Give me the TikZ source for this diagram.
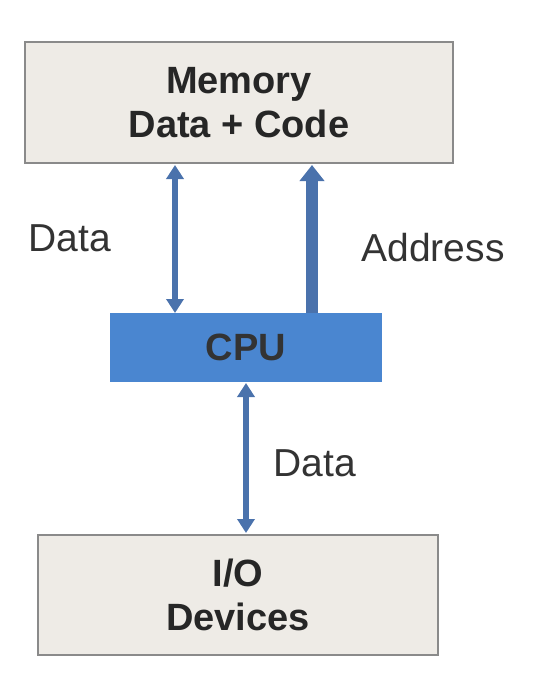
\documentclass[tikz,border=0pt]{standalone}
\usepackage{fontspec}
\setmainfont{Liberation Sans}
\usetikzlibrary{arrows.meta}
\definecolor{boxfill}{HTML}{EEEBE6}
\definecolor{boxline}{HTML}{8A8A8A}
\definecolor{cpublue}{HTML}{4A86D0}
\definecolor{arr}{HTML}{4A72AC}
\begin{document}
\begin{tikzpicture}[x=1pt,y=-1pt,
  box/.style={draw=boxline,line width=1.5pt,fill=boxfill,font=\fontsize{38}{44}\selectfont\bfseries,text=black!85,align=center,inner sep=0pt},
  lbl/.style={font=\fontsize{39}{45}\selectfont,text=black!80},
  dbus/.style={draw=arr,line width=6pt,{Triangle[length=14pt,width=17pt]}-{Triangle[length=14pt,width=17pt]}}]
\useasboundingbox (0,0) rectangle (533,680);
\node[box,minimum width=428pt,minimum height=121pt] (mem) at (239,102.5) {Memory\\Data + Code};
\node[fill=cpublue,minimum width=272pt,minimum height=69pt,inner sep=0pt,font=\fontsize{38}{44}\selectfont\bfseries,text=black!80] (cpu) at (246,347.5) {CPU};
\node[box,minimum width=400pt,minimum height=120pt] (io) at (238,595) {I/O\\Devices};
\coordinate (m1) at (175,165); \coordinate (c1) at (175,313);
\coordinate (m2) at (312,165); \coordinate (c2) at (312,313);
\coordinate (c3) at (246,383); \coordinate (i3) at (246,533);
\draw[dbus] (m1) -- (c1);
\draw[draw=arr,line width=12pt,-{Triangle[length=16pt,width=24pt]}] (c2) -- (m2);
\draw[dbus] (c3) -- (i3);
\node[lbl] (l1) at (70,238) {Data};
\node[lbl] (l2) at (433,248) {Address};
\node[lbl] (l3) at (315,463) {Data};
\end{tikzpicture}
\end{document}
